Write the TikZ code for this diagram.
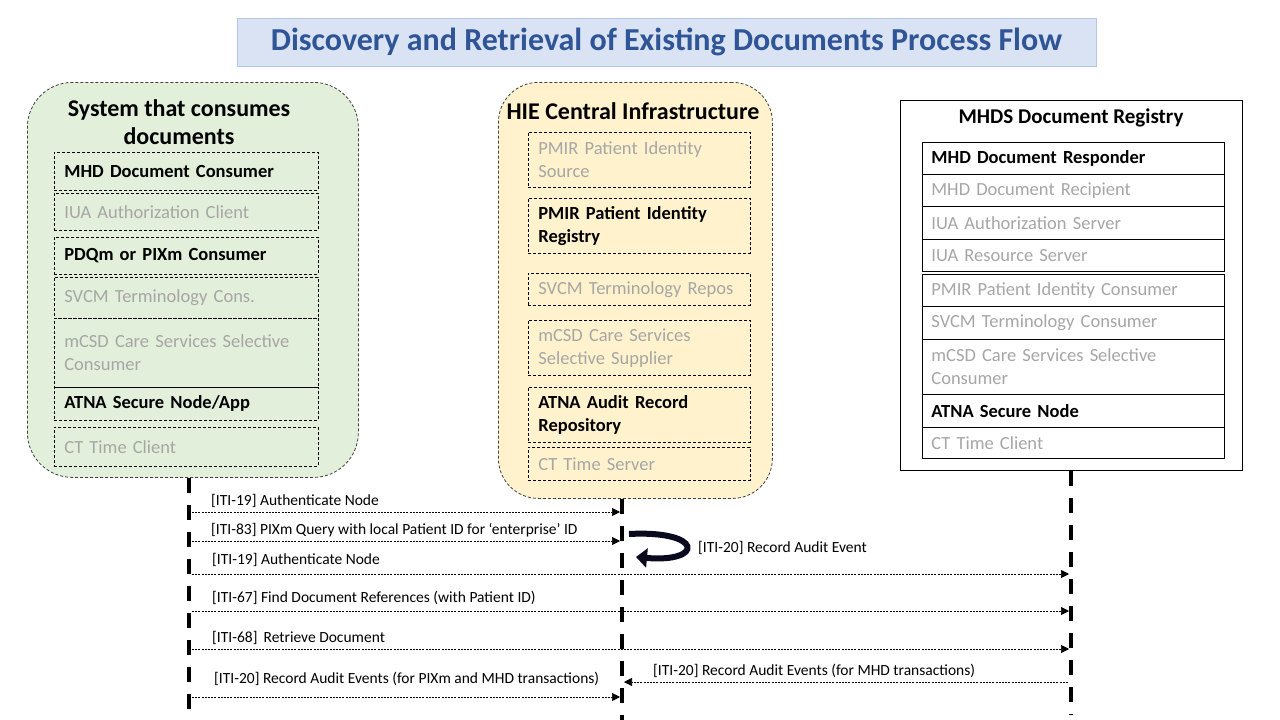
\documentclass[tikz,border=0pt]{standalone}
\usepackage{fontspec}
\setmainfont{Carlito}
\usetikzlibrary{arrows.meta}

\definecolor{sysgreen}{HTML}{E2EFDA}
\definecolor{hieyellow}{HTML}{FFF2CC}
\definecolor{titlefill}{HTML}{DAE3F3}
\definecolor{titleline}{HTML}{B4C7E7}
\definecolor{titletext}{HTML}{2F5597}
\definecolor{idlegray}{HTML}{A6A6A6}
\definecolor{edge}{HTML}{404040}
\definecolor{loopink}{HTML}{0A0A1E}

\newcommand\cellfont{\fontsize{18.5}{23}\selectfont}
\newcommand\msgfont{\fontsize{15.5}{18}\selectfont}

\begin{document}
\begin{tikzpicture}[x=1pt,y=-1pt,
  cell/.style={draw, anchor=north west, inner xsep=10pt, inner ysep=0pt,
    align=left, font=\cellfont, text=idlegray},
  dcell/.style={cell, dash pattern=on 3pt off 2pt, line width=0.7pt},
  lcell/.style={dcell, text width=244pt},
  mcell/.style={dcell, text width=202pt},
  rcell/.style={cell, line width=0.8pt, inner xsep=9pt, text width=284pt},
  inuse/.style={text=black, font=\cellfont\bfseries},
  group/.style={draw=edge, dash pattern=on 3pt off 2pt, line width=0.8pt,
    anchor=north west},
  head/.style={align=center, font=\fontsize{24}{28}\selectfont\bfseries},
  life/.style={line width=3.5pt, dash pattern=on 15pt off 12pt},
  msg/.style={-{Triangle[length=8pt,width=8pt]}, line width=0.7pt,
    dash pattern=on 2pt off 1.2pt, shorten <=3pt, shorten >=2pt},
  lbl/.style={anchor=west, inner sep=0pt, font=\msgfont},
  selfloop/.style={draw=loopink, line width=6pt,
    -{Triangle[length=11pt,width=19pt]}}]

  \useasboundingbox (0,0) rectangle (1280,720);
  \fill[white] (0,0) rectangle (1280,720);

  % title
  \node[draw=titleline, fill=titlefill, line width=1pt, minimum width=859pt,
    minimum height=48pt, text=titletext,
    font=\fontsize{32}{36}\selectfont\bfseries] (title) at (666.5,42)
    {Discovery and Retrieval of Existing Documents Process Flow};

  % consumer system
  \node[group, fill=sysgreen, rounded corners=45pt, minimum width=331pt,
    minimum height=395pt] (sys) at (27,82) {};
  \node[head] (sysT) at (179,122) {System that consumes\\documents};
  \node[lcell, inuse, minimum height=38pt] (s1) at (54,152) {MHD Document Consumer};
  \node[lcell, minimum height=37pt] (s2) at (54,193) {IUA Authorization Client};
  \node[lcell, inuse, minimum height=37pt] (s3) at (54,237) {PDQm or PIXm Consumer};
  \node[lcell, minimum height=41pt] (s4) at (54,277) {SVCM Terminology Cons.};
  \node[lcell, minimum height=69pt] (s5) at (54,318) {mCSD Care Services Selective\\Consumer\\[6pt]};
  \node[lcell, inuse, minimum height=33pt] (s6) at (54,387) {ATNA Secure Node/App};
  \node[lcell, minimum height=39pt] (s7) at (54,427) {CT Time Client};

  % central infrastructure
  \node[group, fill=hieyellow, rounded corners=40pt, minimum width=274pt,
    minimum height=416pt] (hie) at (498,82) {};
  \node[head] (hieT) at (633,111) {HIE Central Infrastructure};
  \node[mcell, minimum height=55pt] (h1) at (528,132) {PMIR Patient Identity\\Source};
  \node[mcell, inuse, minimum height=55pt] (h2) at (528,198) {PMIR Patient Identity\\Registry};
  \node[mcell, minimum height=32pt] (h3) at (528,273) {SVCM Terminology Repos};
  \node[mcell, minimum height=55pt] (h4) at (528,320) {mCSD Care Services\\Selective Supplier};
  \node[mcell, inuse, minimum height=55pt] (h5) at (528,387) {ATNA Audit Record\\Repository};
  \node[mcell, minimum height=33pt] (h6) at (528,447) {CT Time Server};

  % document registry
  \node[draw, line width=0.8pt, anchor=north west, minimum width=342pt,
    minimum height=370pt] (reg) at (900,100) {};
  \node[head, font=\fontsize{21}{24}\selectfont\bfseries] (regT) at (1071,118)
    {MHDS Document Registry};
  \node[rcell, inuse, minimum height=32pt] (r1) at (922,142) {MHD Document Responder};
  \node[rcell, minimum height=32pt] (r2) at (922,174) {MHD Document Recipient};
  \node[rcell, minimum height=33pt] (r3) at (922,206) {IUA Authorization Server};
  \node[rcell, minimum height=32pt] (r4) at (922,239) {IUA Resource Server};
  \node[rcell, minimum height=32pt] (r5) at (922,274) {PMIR Patient Identity Consumer};
  \node[rcell, minimum height=33pt] (r6) at (922,306) {SVCM Terminology Consumer};
  \node[rcell, minimum height=55pt] (r7) at (922,339) {mCSD Care Services Selective\\Consumer};
  \node[rcell, inuse, minimum height=33pt] (r8) at (922,394) {ATNA Secure Node};
  \node[rcell, minimum height=31pt] (r9) at (922,427) {CT Time Client};

  % lifelines
  \coordinate (sysEnd) at (189,714);
  \coordinate (hieEnd) at (622,720);
  \coordinate (regEnd) at (1071,714);
  \draw[life] (sys.south -| sysEnd) -- (sysEnd);
  \draw[life] (hie.south -| hieEnd) -- (hieEnd);
  \draw[life] (reg.south -| regEnd) -- (regEnd);

  % transactions
  \node[lbl] (m1) at (211,501) {[ITI-19] Authenticate Node};
  \draw[msg] (sysEnd |- 0,512) -- (hieEnd |- 0,512);
  \node[lbl] (m2) at (211,530) {[ITI-83] PIXm Query with local Patient ID for ‘enterprise’ ID};
  \draw[msg] (sysEnd |- 0,541) -- (hieEnd |- 0,541);
  \draw[selfloop] (629,534) .. controls (704,530) and (704,563) .. (636,557);
  \node[lbl] (m3) at (698,548) {[ITI-20] Record Audit Event};
  \node[lbl] (m4) at (212,560) {[ITI-19] Authenticate Node};
  \draw[msg] (sysEnd |- 0,574) -- (regEnd |- 0,574);
  \node[lbl] (m5) at (212,598) {[ITI-67] Find Document References (with Patient ID)};
  \draw[msg] (sysEnd |- 0,611) -- (regEnd |- 0,611);
  \node[lbl] (m6) at (212,638) {[ITI-68]\, Retrieve Document};
  \draw[msg] (sysEnd |- 0,649) -- (regEnd |- 0,649);
  \node[lbl] (m7) at (653,671) {[ITI-20] Record Audit Events (for MHD transactions)};
  \draw[msg] (regEnd |- 0,682) -- (hieEnd |- 0,682);
  \node[lbl] (m8) at (214,679) {[ITI-20] Record Audit Events (for PIXm and MHD transactions)};
  \draw[msg] (sysEnd |- 0,697) -- (hieEnd |- 0,697);
\end{tikzpicture}
\end{document}
